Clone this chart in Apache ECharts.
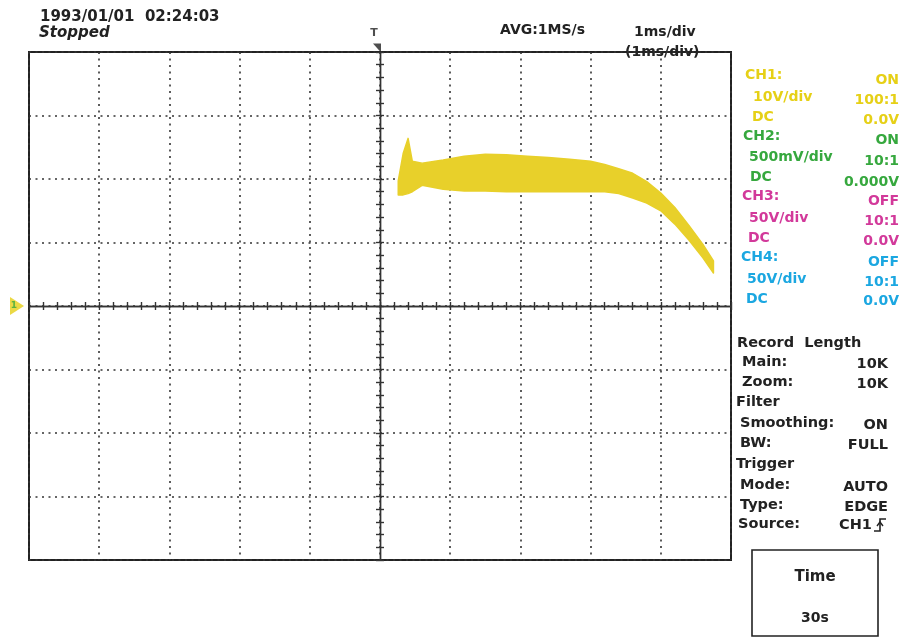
<!DOCTYPE html>
<html>
<head>
<meta charset="utf-8">
<script src="https://cdn.jsdelivr.net/npm/echarts@6/dist/echarts.min.js"></script>
<style>
html,body{margin:0;padding:0;background:#fff;}
#chart{width:905px;height:637px;}
</style>
</head>
<body>
<div id="chart"></div>
<script>
// ---- data (time in ms after trigger, voltage in V; CH1 10V/div, 1ms/div) ----
const timeMs = [0.26, 0.33, 0.40, 0.46, 0.6, 0.9, 1.2, 1.5, 1.8, 2.1, 2.4, 2.7, 3.0, 3.2, 3.4, 3.6, 3.8, 4.0, 4.2, 4.4, 4.6, 4.75];
const upperV = [19.7, 24.0, 26.4, 22.8, 22.5, 23.0, 23.6, 23.9, 23.8, 23.6, 23.4, 23.1, 22.8, 22.3, 21.6, 20.9, 19.6, 17.8, 15.5, 12.7, 9.7, 7.1];
const lowerV = [17.5, 17.5, 17.7, 18.0, 19.0, 18.4, 18.1, 18.1, 18.0, 18.0, 18.0, 18.0, 18.0, 18.0, 17.7, 17.0, 16.2, 15.0, 12.9, 10.4, 7.6, 5.2];
const timeRange = [-5, 5];      // 10 divisions, 1 ms/div
const voltRange = [-40, 40];    // 8 divisions, 10 V/div

const header = ['1993/01/01  02:24:03', 'Stopped', 'AVG:1MS/s', '1ms/div', '(1ms/div)'];
const chLeft = ['CH1:', '10V/div', 'DC', 'CH2:', '500mV/div', 'DC', 'CH3:', '50V/div', 'DC', 'CH4:', '50V/div', 'DC'];
const chRight = ['ON', '100:1', '0.0V', 'ON', '10:1', '0.000V', 'OFF', '10:1', '0.0V', 'OFF', '10:1', '0.0V'];
const infoLeft = ['Record  Length', 'Main:', 'Zoom:', 'Filter', 'Smoothing:', 'BW:', 'Trigger', 'Mode:', 'Type:', 'Source:'];
const infoRight = ['', '10K', '10K', '', 'ON', 'FULL', '', 'AUTO', 'EDGE', 'CH1'];
const boxText = ['Time', '30s'];

// ---- styles ----
const ink = '#222';
const chColors = ['#E6D016', '#36A83E', '#D2399A', '#1BA7E1'];
const waveColor = '#E8D02A';
const F = 'bold 14px "DejaVu Sans"';

const chart = echarts.init(document.getElementById('chart'), null, {renderer: 'canvas'});

const graphics = [];
function txt(text, x, y, opts) {
  opts = opts || {};
  graphics.push({
    type: 'text', x: x, y: y, silent: true,
    style: {
      text: text, font: opts.font || F, fill: opts.fill || ink,
      textAlign: opts.align || 'left', align: opts.align || 'left',
      textVerticalAlign: 'middle', verticalAlign: 'middle'
    }
  });
}
txt(header[0], 40, 17, {font: 'bold 15px "DejaVu Sans"'});
txt(header[1], 39, 33, {font: 'italic bold 15px "DejaVu Sans"'});
txt(header[2], 500, 30, {font: 'bold 14px "DejaVu Sans"'});
txt(header[3], 634, 32, {font: 'bold 14px "DejaVu Sans"'});
txt(header[4], 625, 52, {font: 'bold 14px "DejaVu Sans"'});

const leftX = [745, 753, 752, 743, 749, 750, 742, 749, 748, 741, 747, 746];
const leftY = [75, 97, 117, 136, 157, 177, 196, 218, 238, 257, 279, 299];
const rightY = [80, 100, 120, 140, 161, 182, 201, 221, 241, 262, 282, 301];
chLeft.forEach(function (s, i) {
  const c = chColors[Math.floor(i / 3)];
  txt(s, leftX[i], leftY[i], {fill: c});
  txt(chRight[i], 899, rightY[i], {fill: c, align: 'right'});
});

const infoLX = [737, 742, 742, 736, 740, 740, 736, 740, 740, 738];
const infoY = [343, 362, 382, 402, 423, 443, 464, 485, 505, 524];
infoLeft.forEach(function (s, i) {
  txt(s, infoLX[i], infoY[i], {font: 'bold 14.5px "DejaVu Sans"'});
  if (infoRight[i]) {
    if (i === 9) txt(infoRight[i], 839, infoY[i] + 1, {font: 'bold 14.5px "DejaVu Sans"'});
    else txt(infoRight[i], 888, infoY[i] + 2, {font: 'bold 14.5px "DejaVu Sans"', align: 'right'});
  }
});
// rising edge icon
graphics.push({type: 'polyline', silent: true, shape: {points: [[874, 531], [880, 531], [880, 519], [886, 519]]}, style: {stroke: ink, lineWidth: 1.6, fill: null}});
graphics.push({type: 'polyline', silent: true, shape: {points: [[877, 526], [880, 522], [883, 526]]}, style: {stroke: ink, lineWidth: 1.4, fill: null}});
// time box
graphics.push({type: 'rect', silent: true, shape: {x: 752, y: 550, width: 126, height: 86}, style: {stroke: ink, lineWidth: 1.6, fill: null}});
txt(boxText[0], 815, 577, {font: 'bold 15px "DejaVu Sans"', align: 'center'});
txt(boxText[1], 815, 618, {font: 'bold 14px "DejaVu Sans"', align: 'center'});

const dotted = {type: [2, 4.5], color: '#333', width: 1.6};
const centerLine = {color: '#333', width: 1.4};
const tickStyle = {color: '#333', width: 1.4};

function xAx(pos, split) {
  return {
    type: 'value', min: timeRange[0], max: timeRange[1], interval: 1, position: pos,
    axisLine: {show: true, onZero: true, lineStyle: centerLine},
    axisTick: {show: true, inside: false, length: 4, lineStyle: tickStyle},
    minorTick: {show: true, splitNumber: 5, length: 4, lineStyle: tickStyle},
    axisLabel: {show: false},
    splitLine: {show: split, lineStyle: dotted},
    minorSplitLine: {show: false}
  };
}
function yAx(pos, split) {
  return {
    type: 'value', min: voltRange[0], max: voltRange[1], interval: 10, position: pos,
    axisLine: {show: true, onZero: true, lineStyle: centerLine},
    axisTick: {show: true, inside: false, length: 4, lineStyle: tickStyle},
    minorTick: {show: true, splitNumber: 5, length: 4, lineStyle: tickStyle},
    axisLabel: {show: false},
    splitLine: {show: split, lineStyle: dotted},
    minorSplitLine: {show: false}
  };
}

// envelope band of the CH1 trace, drawn through the axis scales
function renderBand(params, api) {
  if (params.dataIndex !== 0) return null;
  const pts = [];
  for (let i = 0; i < timeMs.length; i++) pts.push(api.coord([timeMs[i], upperV[i]]));
  for (let i = timeMs.length - 1; i >= 0; i--) pts.push(api.coord([timeMs[i], lowerV[i]]));
  return {
    type: 'polygon',
    shape: {points: pts},
    style: {fill: waveColor, stroke: waveColor, lineWidth: 1.5, lineJoin: 'round'}
  };
}

chart.setOption({
  animation: false,
  backgroundColor: '#fff',
  grid: {left: 29, top: 52, right: 174, bottom: 77, show: true, borderColor: ink, borderWidth: 2, backgroundColor: 'transparent', outerBoundsMode: 'none', containLabel: false},
  xAxis: [xAx('bottom', true), xAx('top', false)],
  yAxis: [yAx('left', true), yAx('right', false)],
  graphic: graphics,
  series: [
    {
      name: 'CH1', type: 'custom', xAxisIndex: 0, yAxisIndex: 0,
      data: timeMs.map(function (t, i) { return [t, upperV[i], lowerV[i]]; }),
      encode: {x: 0, y: [1, 2]},
      renderItem: renderBand, silent: true, z: 5
    },
    {
      name: 'trigger', type: 'scatter', xAxisIndex: 0, yAxisIndex: 0, clip: false,
      data: [[0, voltRange[1]]],
      symbol: 'path://M0,0 L8,0 L8,9 Z', symbolSize: [8, 9], symbolOffset: [-3, -4],
      itemStyle: {color: ink},
      label: {show: true, formatter: 'T', position: 'top', offset: [-3, 0], fontSize: 11, fontWeight: 'bold', color: ink, fontFamily: 'DejaVu Sans'},
      z: 10
    },
    {
      name: 'ch1marker', type: 'scatter', xAxisIndex: 0, yAxisIndex: 0, clip: false,
      data: [[timeRange[0], 0]],
      symbol: 'path://M0,0 L12,7 L0,14 Z', symbolSize: [14, 18], symbolOffset: [-12, 0],
      itemStyle: {color: chColors[0]},
      label: {show: true, formatter: '1', position: 'inside', offset: [-3, 0], fontSize: 9, fontWeight: 'bold', color: chColors[1], fontFamily: 'DejaVu Sans'},
      z: 10
    }
  ]
});
</script>
</body>
</html>
